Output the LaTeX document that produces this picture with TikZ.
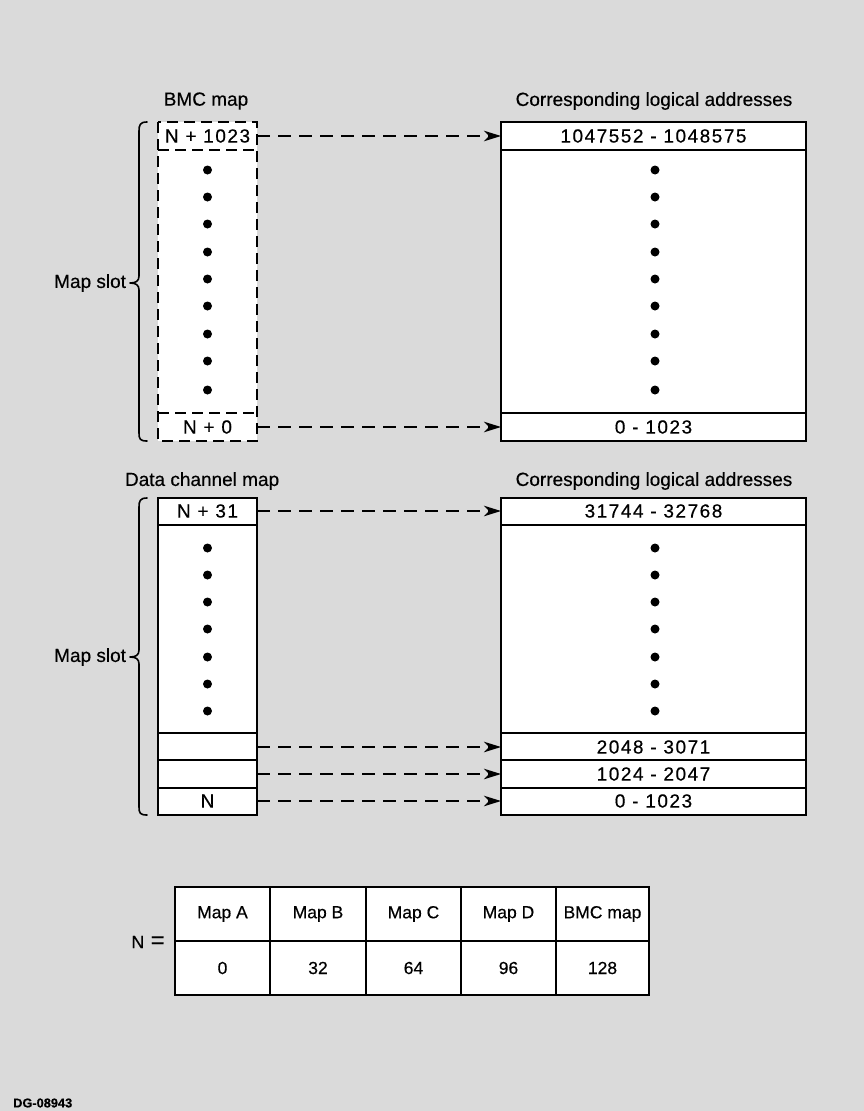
\documentclass[tikz,border=0pt]{standalone}
\usepackage{fontspec}
\setmainfont{Liberation Sans}[FakeBold=0.4]
\newfontfamily\numfont{Liberation Sans}[LetterSpace=8,FakeBold=0.4]
\newfontfamily\dgfont{Liberation Sans}[FakeBold=0.4]
\usetikzlibrary{arrows.meta}
\definecolor{bg}{RGB}{218,218,218}
\begin{document}
\begin{tikzpicture}[x=1pt,y=-1pt,
  lbl/.style={font=\fontsize{19}{22}\selectfont, inner sep=0pt, outer sep=0pt},
  num/.style={font=\numfont\fontsize{19}{22}\selectfont},
  lrow/.style={num, minimum width=99pt, minimum height=28pt, inner sep=0pt, outer sep=0pt},
  rrow/.style={num, minimum width=305pt, minimum height=28pt, inner sep=0pt, outer sep=0pt},
  frame/.style={draw=black, line width=1.7pt, fill=white},
  dframe/.style={draw=black, line width=1.7pt, fill=white, dash pattern=on 11pt off 6pt},
  sep/.style={draw=black, line width=1.5pt},
  dsep/.style={draw=black, line width=1.5pt, dash pattern=on 11pt off 6pt},
  link/.style={line width=1.7pt, dash pattern=on 13pt off 8pt, -{Stealth[length=17pt,width=10.5pt,inset=5pt]}},
  blackdot/.style={circle, fill=black, inner sep=0pt, minimum size=9pt},
  brace/.style={line width=1.6pt, line cap=round, line join=round},
  cell/.style={draw=black, line width=1.7pt, fill=white, minimum height=54pt, inner sep=0pt, font=\fontsize{17.5}{20}\selectfont}
]
\path[fill=bg] (0,0) rectangle (864,1111);

% ---------- top section ----------
\node[lbl] (tbmc) at (206,101) {BMC map};
\node[lbl] (tcor) at (654,101) {Corresponding logical addresses};

\path[dframe] (158,122) rectangle (257,441);
\path[dsep] (158,150) -- (257,150);
\path[dsep] (158,413) -- (257,413);
\path[frame] (501,122) rectangle (806,441);
\path[sep] (501,150) -- (806,150);
\path[sep] (501,413) -- (806,413);

\node[lrow] (tl1) at (207.5,136) {N + 1023};
\node[lrow] (tl0) at (207.5,427) {N + 0};
\node[rrow] (tr1) at (653.5,136) {1047552 - 1048575};
\node[rrow] (tr0) at (653.5,427) {0 - 1023};

\foreach \y [count=\i] in {170,197,224,252,279,306,334,361,390}{
  \node[blackdot] (tld\i) at (207.5,\y) {};
  \node[blackdot] (trd\i) at (655,\y) {};
}

\draw[link] (tl1.east) -- (tr1.west);
\draw[link] (tl0.east) -- (tr0.west);

\draw[brace] (147,122) .. controls (140,122) and (139,125) .. (139,131) -- (139,276)
  .. controls (139,281) and (136,283) .. (130,283)
  .. controls (136,283) and (139,285) .. (139,290) -- (139,433)
  .. controls (139,439) and (140,441) .. (147,441);
\node[lbl, anchor=east] (tslot) at (126,283) {Map slot};

% ---------- bottom section ----------
\node[lbl, anchor=west] (bdcm) at (125,481) {Data channel map};
\node[lbl] (bcor) at (654,481) {Corresponding logical addresses};

\path[frame] (158,498) rectangle (257,815);
\path[sep] (158,525) -- (257,525);
\path[sep] (158,733) -- (257,733);
\path[sep] (158,760) -- (257,760);
\path[sep] (158,788) -- (257,788);
\path[frame] (501,498) rectangle (806,815);
\path[sep] (501,525) -- (806,525);
\path[sep] (501,733) -- (806,733);
\path[sep] (501,760) -- (806,760);
\path[sep] (501,788) -- (806,788);

\node[lrow] (bl1) at (207.5,511) {N + 31};
\node[lrow] (bl2) at (207.5,747) {};
\node[lrow] (bl3) at (207.5,774) {};
\node[lrow] (bl4) at (207.5,801) {N};
\node[rrow] (br1) at (653.5,511) {31744 - 32768};
\node[rrow] (br2) at (653.5,747) {2048 - 3071};
\node[rrow] (br3) at (653.5,774) {1024 - 2047};
\node[rrow] (br4) at (653.5,801) {0 - 1023};

\foreach \y [count=\i] in {548,575,602,629,657,684,711}{
  \node[blackdot] (bld\i) at (207.5,\y) {};
  \node[blackdot] (brd\i) at (655,\y) {};
}

\draw[link] (bl1.east) -- (br1.west);
\draw[link] (bl2.east) -- (br2.west);
\draw[link] (bl3.east) -- (br3.west);
\draw[link] (bl4.east) -- (br4.west);

\draw[brace] (147,498) .. controls (140,498) and (139,501) .. (139,507) -- (139,650)
  .. controls (139,655) and (136,657) .. (130,657)
  .. controls (136,657) and (139,659) .. (139,664) -- (139,807)
  .. controls (139,813) and (140,815) .. (147,815);
\node[lbl, anchor=east] (bslot) at (126,657) {Map slot};

% ---------- table ----------
\node[font=\fontsize{18}{20}\selectfont, inner sep=0pt] (neq) at (148,942) {N\hspace{0.35em}{\fontsize{24}{24}\selectfont =}};
\foreach \h/\v/\xa/\xb [count=\i] in {Map A/0/175/270, Map B/32/270/366, Map C/64/366/461, Map D/96/461/556, BMC map/128/556/649}{
  \node[cell, minimum width={(\xb-\xa)*1pt}] (h\i) at ({(\xa+\xb)/2},914) {\h};
  \node[cell, minimum width={(\xb-\xa)*1pt}] (v\i) at ({(\xa+\xb)/2},968) {\v};
}

\node[font=\dgfont\bfseries\fontsize{12.8}{14}\selectfont, anchor=west, inner sep=0pt] (dg) at (13,1103) {DG-08943};
\end{tikzpicture}
\end{document}
